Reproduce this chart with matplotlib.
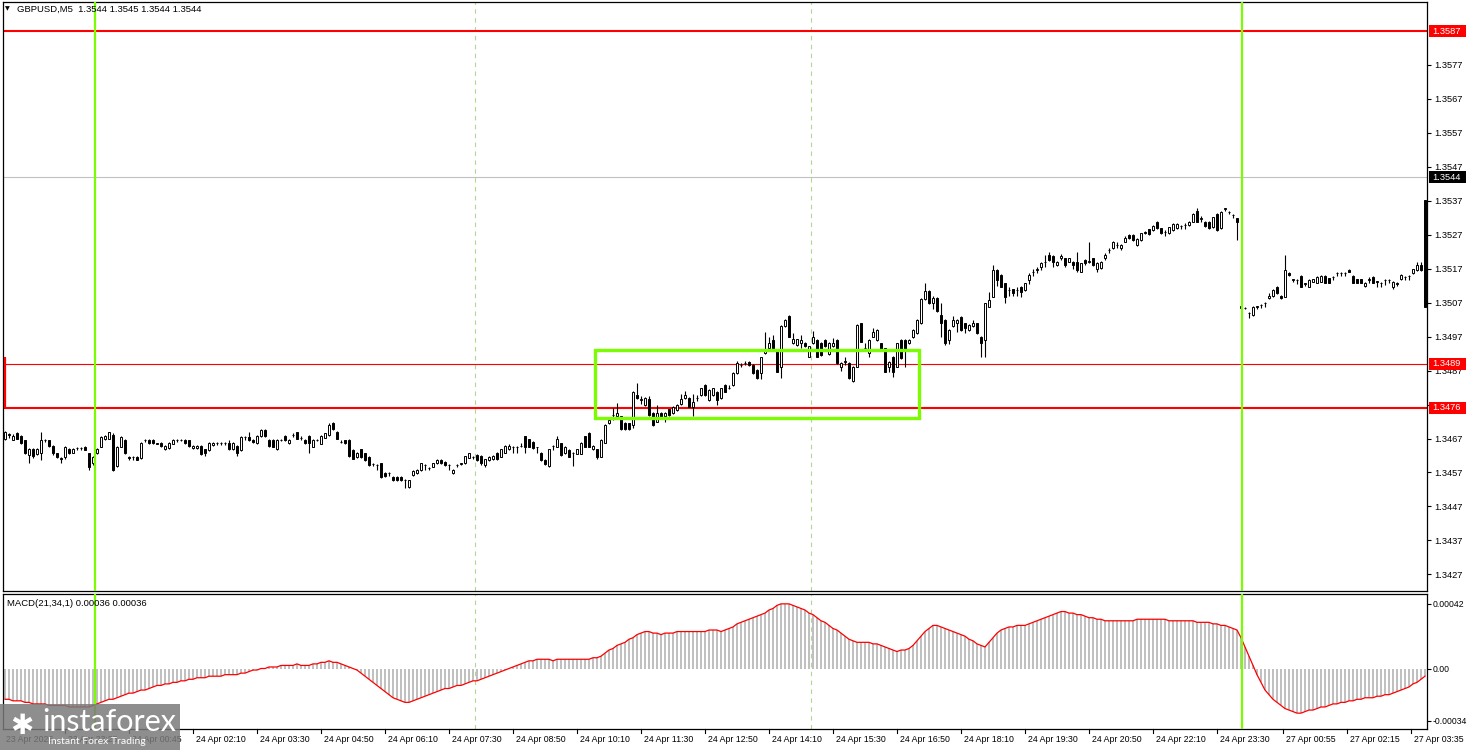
import matplotlib
matplotlib.use("Agg")
import matplotlib.pyplot as plt
import matplotlib.transforms as mtransforms
from matplotlib.patches import Rectangle
import numpy as np

# ---------------- data (prices in pips above 1.3400) ----------------
BASE = 1.3400
PIP = 0.0001

opens = [67.0,68.0,66.7,68.5,67.7,66.5,62.1,63.8,62.4,62.6,
66.7,66.5,64.8,62.6,61.4,61.6,63.8,62.8,64.1,64.1,
64.6,62.6,59.7,62.6,64.6,66.9,67.0,68.0,58.9,64.6,
66.7,61.6,61.6,61.6,61.4,66.5,66.7,66.7,65.5,65.7,
63.8,64.1,65.5,66.5,66.6,66.7,66.5,64.1,64.1,64.8,
63.8,63.6,65.1,65.6,65.6,65.6,65.7,63.8,64.8,63.6,
67.4,67.5,66.7,65.7,67.7,69.5,66.7,66.7,63.8,66.6,
67.7,65.7,68.0,68.8,67.2,66.7,67.7,64.6,66.6,65.5,
67.3,68.0,71.6,69.0,66.0,66.5,66.7,63.6,61.6,63.8,
62.6,61.6,59.4,59.2,59.7,56.9,56.8,55.7,55.7,55.7,
54.7,52.6,56.2,56.7,57.7,59.2,58.2,58.7,59.7,60.8,
60.1,59.2,56.7,59.1,59.6,59.7,61.4,61.6,62.1,
61.9,59.2,60.7,60.9,62.7,61.7,62.8,63.8,64.5,64.5,64.7,
67.6,66.8,66.1,64.5,62.7,60.7,58.9,64.7,64.6,65.6,
62.7,63.6,62.6,62.5,62.5,67.6,68.5,63.8,63.8,61.7,
65.8,71.5,73.8,73.5,73.5,71.7,71.5,71.0,79.8,78.4,
76.9,78.6,74.6,72.0,74.6,73.5,75.6,74.4,75.4,77.2,
78.9,78.9,76.4,78.8,79.8,82.8,78.2,79.8,80.8,78.9,
82.8,81.9,82.8,86.2,88.6,89.1,89.6,88.7,87.2,86.2,
92.1,93.6,96.0,93.1,88.2,100.1,103.1,95.0,94.5,95.0,
95.2,91.1,95.0,96.0,95.2,96.0,91.9,94.1,96.0,88.2,
89.6,89.2,83.8,88.2,100.9,93.6,92.1,97.0,96.0,95.0,
93.6,88.2,91.1,88.2,96.0,96.0,95.0,96.8,98.0,100.9,
108.0,110.5,107.0,108.5,103.4,101.9,96.0,100.0,100.9,102.9,
100.9,99.0,100.0,100.9,97.0,96.0,105.8,108.8,116.6,115.2,
112.7,110.6,110.9,110.6,111.7,110.7,113.7,116.0,116.7,117.6,
119.0,121.0,120.7,118.1,120.1,120.1,119.1,119.1,119.1,116.1,
119.6,119.1,120.1,116.8,117.1,120.1,122.4,123.0,123.9,123.0,
125.0,126.9,126.9,124.0,125.5,127.9,128.6,128.4,130.9,128.9,
127.8,127.4,128.4,128.9,129.5,129.8,129.9,130.9,134.1,131.7,
130.9,130.9,129.2,133.1,128.9,134.7,133.7,132.7,131.8,
105.4,105.4,103.9,103.4,105.8,106.3,106.8,108.3,109.0,111.7,
109.0,108.8,115.8,113.8,113.6,114.9,112.6,111.7,113.2,112.9,
113.2,114.9,114.2,114.6,115.7,115.7,115.7,116.6,114.9,113.9,
113.9,111.9,113.8,114.7,113.2,112.7,113.6,113.6,111.7,112.6,
113.9,114.6,114.8,115.6,116.6,118.1,137.2]

closes = [69.0,68.2,67.7,67.0,65.7,62.6,63.8,61.8,63.8,66.7,
66.5,64.8,62.6,61.6,61.1,64.6,62.8,63.8,64.2,64.2,
63.6,58.7,61.6,63.8,67.5,67.7,68.8,57.7,64.6,67.5,
62.6,61.4,61.5,60.8,65.8,66.6,65.7,65.7,65.5,64.8,
64.8,65.7,66.7,66.6,66.7,65.7,64.8,64.8,64.8,62.4,
62.6,65.7,65.7,65.7,65.7,65.7,63.8,65.7,62.6,67.5,
67.5,66.5,66.0,67.7,69.5,67.7,64.8,64.6,66.7,66.7,
66.5,66.7,68.1,67.0,67.3,65.7,65.7,66.7,66.7,67.7,
68.5,70.9,69.7,67.0,66.1,65.7,61.8,61.1,62.8,61.6,
60.6,59.2,59.5,59.1,55.7,55.9,56.9,54.7,54.7,54.7,
54.8,54.7,57.5,57.7,59.7,59.3,58.3,59.7,60.8,59.7,
59.2,59.1,57.7,59.2,59.7,61.8,62.6,61.7,60.6,
59.7,60.9,61.7,61.9,60.9,63.8,64.8,64.8,64.6,64.6,64.8,
64.6,64.6,64.1,64.4,60.7,59.5,63.8,64.8,66.8,62.2,
64.6,61.7,62.7,63.8,65.8,64.6,64.6,64.8,61.7,66.6,
71.0,72.5,73.9,74.6,69.7,69.7,69.7,80.8,78.9,78.5,
78.9,73.9,71.0,74.6,73.5,74.6,73.9,76.4,76.9,78.6,
79.8,76.4,77.9,78.9,81.8,79.8,81.3,81.8,78.2,81.8,
80.8,82.0,86.4,89.2,88.7,89.2,88.7,86.2,84.7,90.9,
93.1,95.2,93.6,86.7,100.1,101.9,97.0,96.2,96.2,96.0,
94.1,94.1,97.0,91.1,91.6,94.1,95.2,95.2,89.2,89.2,
89.7,84.7,88.2,100.4,95.5,93.7,96.0,98.5,99.0,93.1,
86.7,89.6,86.7,95.0,90.6,93.1,96.0,99.0,101.9,108.0,
110.5,107.0,108.5,104.5,100.9,95.0,99.0,101.9,101.9,99.0,
99.5,100.4,100.9,98.0,95.0,106.8,107.8,116.6,113.7,111.7,
108.8,110.7,109.8,110.7,110.2,112.7,115.2,116.1,116.8,118.8,
119.1,119.6,119.1,119.1,120.7,118.1,120.1,118.1,116.6,118.6,
118.6,119.2,118.1,118.8,119.1,121.0,122.5,125.0,124.0,124.0,
125.9,125.9,125.5,125.7,127.4,127.4,127.2,129.6,128.9,127.4,
127.9,129.2,130.2,130.2,129.6,129.9,130.9,133.1,130.9,131.8,
129.6,128.9,132.1,128.4,133.8,134.8,133.8,132.8,130.9,
106.0,105.4,104.0,105.8,105.9,106.4,106.9,109.0,110.7,109.8,
108.3,116.6,115.2,113.9,113.7,111.7,112.7,113.7,113.9,114.7,
114.9,112.9,112.9,114.7,115.8,115.8,115.8,116.1,112.9,112.9,
112.9,112.9,113.9,112.9,113.3,112.8,113.7,113.7,113.2,112.7,
115.2,114.7,114.9,116.8,118.1,116.6,105.7]

highs = [69.3,68.5,68.2,68.8,68.0,66.7,64.3,64.1,64.1,68.8,
66.9,66.7,65.1,62.8,61.6,64.8,64.1,64.1,64.4,64.4,
64.8,62.8,61.8,64.1,67.7,68.0,69.0,68.5,64.8,67.7,
67.0,61.8,61.8,61.8,66.0,66.9,66.9,66.9,65.7,65.9,
65.0,65.9,66.9,66.9,66.9,66.9,66.7,65.0,65.0,65.0,
64.0,65.9,65.9,65.9,65.9,65.9,66.5,65.9,65.0,67.7,
67.7,68.8,66.9,67.9,69.7,69.7,67.0,66.9,66.9,66.9,
67.9,66.9,68.5,69.0,67.7,66.9,67.9,66.9,66.9,67.9,
68.7,71.6,71.8,69.2,66.5,66.7,66.9,63.8,63.0,64.0,
62.8,61.8,59.9,59.4,59.9,57.1,57.1,55.9,55.9,55.9,
55.0,54.9,57.7,57.9,59.9,59.5,58.7,59.9,61.0,61.0,
60.3,59.4,57.9,59.4,59.9,62.0,62.8,61.9,62.3,
62.1,61.1,61.9,62.1,62.9,64.0,65.0,65.5,64.8,64.8,65.6,
67.8,67.0,66.3,64.6,62.9,60.9,64.0,65.2,67.6,65.8,
64.8,63.8,62.9,64.0,66.0,67.8,68.9,65.0,64.0,66.8,
71.2,72.7,76.0,77.6,73.7,71.9,71.7,81.0,83.3,79.5,
79.1,79.5,74.8,77.0,74.8,74.8,75.8,76.6,77.1,80.0,
81.0,79.1,80.0,79.7,82.0,83.0,81.5,82.0,81.0,82.0,
83.0,82.8,86.6,89.9,89.2,89.8,89.8,88.9,87.4,91.1,
98.5,96.8,97.5,93.3,100.3,102.1,103.3,98.0,96.4,97.5,
95.4,94.3,98.8,96.2,95.4,96.2,95.4,96.5,96.2,89.4,
91.0,89.4,88.4,100.6,101.1,95.0,96.2,99.5,99.2,95.2,
93.8,89.8,91.3,95.2,96.2,96.2,96.2,99.2,102.1,108.3,
112.8,110.7,109.0,108.7,106.8,102.1,99.2,103.0,102.1,103.1,
101.1,100.6,102.0,101.1,97.2,107.0,110.0,118.0,116.8,115.4,
112.9,111.5,111.1,111.7,111.9,112.9,115.8,117.0,117.5,119.0,
121.0,122.0,120.9,119.3,121.2,120.3,120.3,119.3,122.0,118.8,
119.8,125.0,120.3,119.0,119.3,121.5,123.0,125.2,125.0,124.2,
126.5,127.1,127.1,125.9,127.6,128.1,128.8,129.8,131.1,129.1,
128.3,129.4,130.4,130.4,130.0,130.5,131.1,133.3,135.0,132.5,
131.1,131.1,132.3,133.3,134.0,135.0,134.0,133.0,132.0,
106.2,105.6,104.2,106.0,106.1,106.6,107.1,109.8,110.9,111.9,
109.2,121.0,116.0,114.1,113.9,115.1,112.9,113.9,114.1,114.9,
115.1,115.1,114.4,114.9,116.0,116.0,116.0,116.8,115.1,114.1,
114.1,113.1,114.6,114.9,113.5,113.0,113.9,113.9,113.4,113.2,
115.4,114.9,115.1,117.0,119.0,119.0,137.2]

lows = [66.5,67.2,66.5,66.8,65.5,62.4,59.7,61.4,62.1,60.8,
66.0,64.6,62.1,61.4,59.7,61.1,62.4,62.6,63.6,63.6,
63.6,57.7,59.2,62.4,64.4,66.7,66.8,57.5,58.7,64.4,
62.4,60.6,60.6,60.6,61.1,66.0,65.5,65.5,65.3,64.6,
63.6,63.9,65.3,66.0,66.2,65.5,64.6,63.9,63.9,62.1,
61.8,63.4,64.9,65.2,65.2,65.2,63.6,63.6,61.8,63.4,
66.7,66.3,65.8,65.5,67.5,67.5,64.6,64.4,63.6,66.2,
66.3,65.5,67.5,66.8,66.7,65.5,62.6,64.4,66.2,65.3,
67.1,67.8,69.5,66.8,65.7,65.5,61.6,60.9,61.4,61.4,
60.4,59.0,59.0,57.7,55.5,55.7,55.9,54.5,54.5,54.5,
52.3,52.4,55.9,56.5,57.5,57.7,57.7,58.5,59.5,59.5,
59.0,57.7,56.5,58.7,59.2,59.5,61.2,61.1,60.4,
59.3,58.7,60.5,60.7,60.7,61.5,62.6,63.6,62.8,62.7,64.4,
62.7,64.4,63.9,62.7,60.5,59.3,58.7,63.6,64.4,62.0,
62.5,61.5,58.9,62.3,62.3,64.4,64.4,63.6,61.0,61.5,
65.6,71.3,72.5,73.3,69.5,69.5,69.5,70.0,78.7,77.2,
76.7,73.7,70.8,71.8,73.3,72.0,73.7,74.2,75.2,77.0,
78.7,76.2,73.5,78.0,79.6,79.6,78.0,79.6,76.9,78.7,
80.6,81.6,82.6,86.0,88.2,88.7,88.5,86.0,84.5,84.5,
91.9,93.4,93.4,86.5,84.7,99.9,96.8,94.8,94.3,93.6,
93.9,90.9,94.8,90.9,91.4,93.9,91.7,93.9,89.0,87.0,
88.7,84.5,83.6,88.0,95.3,93.0,91.0,96.8,95.8,92.9,
86.5,86.7,85.0,88.0,90.4,88.0,94.8,96.6,97.8,100.7,
107.8,106.5,105.0,104.3,97.0,94.5,94.8,99.8,98.5,98.8,
98.0,98.8,99.8,97.8,91.1,91.1,105.6,108.6,112.0,111.5,
107.0,109.0,109.0,109.0,108.8,110.5,112.5,115.0,115.8,116.5,
117.5,119.4,117.5,117.9,119.5,117.5,118.9,117.0,116.0,115.9,
118.0,118.6,117.9,116.0,116.9,119.5,121.5,122.8,123.0,122.5,
124.8,125.7,125.3,123.8,125.3,127.2,127.0,128.2,128.7,127.2,
126.5,127.2,128.2,128.7,128.6,128.6,129.7,130.7,130.7,130.8,
129.4,128.7,129.0,128.2,128.7,134.0,133.0,132.0,125.5,
105.2,105.2,102.4,103.2,105.0,105.3,105.8,108.1,108.8,109.6,
108.1,108.6,115.0,113.2,112.5,111.5,111.8,111.5,113.0,112.7,
113.0,112.7,112.7,113.6,115.0,115.0,115.0,115.9,112.7,112.7,
112.7,111.7,112.8,112.7,111.7,111.7,112.2,112.7,111.0,112.0,
113.7,113.6,113.8,115.4,116.4,116.4,105.7]

# MACD(21,34,1) histogram values, in 1e-5
macd = [-20,-20,-21,-21,-21,-22,-22,-23,-23,-23,-23,-24,-24,-24,-24,-24,-25,-25,-25,-25,-25,-25,-24,
-23,-22,-21,-20,-20,-19,-18,-17,-16,-16,-15,-14,
-14,-13,-12,-11,-11,-10,-10,-9,-9,-8,
-8,-7,-7,-6,-6,-6,-5,-5,-5,-5,-4,-4,-4,-4,-3,-3,
-2,-1,-1,0,0,1,1,1,2,2,2,2,3,2,2,
2,3,3,4,4,5,4,
4,3,2,1,0,-1,
-3,-5,-7,-9,-11,-13,-15,-17,-19,-20,-21,-22,
-22,-21,-20,-19,-18,-17,-16,-15,-14,-13,-13,-12,-11,-11,-10,-9,-8,-8,-7,-6,
-5,-4,-3,-2,-1,0,1,2,3,4,
5,5,6,6,6,6,5,6,6,6,6,6,6,6,6,6,7,7,
8,10,12,13,15,16,17,19,20,22,23,24,
24,23,23,22,23,23,23,24,24,24,24,24,24,24,24,25,25,25,24,25,
26,27,29,30,31,32,33,34,35,36,38,39,41,42,42,42,
41,40,39,38,36,35,33,31,30,
28,26,25,23,21,19,18,17,17,17,
17,16,16,15,14,13,12,
11,12,12,13,
15,18,21,24,26,28,
28,27,26,25,24,23,22,21,
19,18,16,15,14,
17,20,23,25,26,27,27,28,28,28,29,30,31,32,33,
34,35,36,37,37,36,36,
35,35,34,33,33,32,32,31,31,31,31,31,31,
31,31,32,32,32,32,32,32,32,32,31,31,31,31,31,31,31,30,30,30,
30,29,29,28,28,27,26,25,
20,14,8,2,-4,-9,-14,-17,-20,-22,
-24,-26,-27,-28,-29,-29,-28,
-27,-27,-26,-25,-25,-24,-23,-23,-22,-22,-21,-21,-20,-20,-19,
-19,-19,-18,-18,-17,-17,-16,-15,-14,-13,-12,-10,-9,-7,-5]

time_labels = ["23 Apr 2026", "23 Apr 23:25", "24 Apr 00:45", "24 Apr 02:10", "24 Apr 03:30",
               "24 Apr 04:50", "24 Apr 06:10", "24 Apr 07:30", "24 Apr 08:50", "24 Apr 10:10",
               "24 Apr 11:30", "24 Apr 12:50", "24 Apr 14:10", "24 Apr 15:30", "24 Apr 16:50",
               "24 Apr 18:10", "24 Apr 19:30", "24 Apr 20:50", "24 Apr 22:10", "24 Apr 23:30",
               "27 Apr 00:55", "27 Apr 02:15", "27 Apr 03:35"]
time_label_bars = [-0.5, 15, 31, 47, 63, 79, 95, 111, 127, 143, 159, 175, 191, 207, 223,
                   239, 255, 271, 287, 303, 319.5, 335.5, 351.5]

price_ticks = [1.3427, 1.3437, 1.3447, 1.3457, 1.3467, 1.3477, 1.3487, 1.3497, 1.3507,
               1.3517, 1.3527, 1.3537, 1.3547, 1.3557, 1.3567, 1.3577]
macd_ticks = [0.00042, 0.0, -0.00034]
macd_tick_labels = ["0.00042", "0.00", "-0.00034"]

red_levels_thick = [1.3587, 1.3476]
red_level_thin = 1.3489
bid_price = 1.3544
level_labels = [(1.3587, "1.3587", "#ff0000"), (1.3489, "1.3489", "#ff0000"),
                (1.3476, "1.3476", "#ff0000"), (1.3544, "1.3544", "#000000")]
green_vline_bars = [22.5, 309.25]
separator_bars = [117.5, 201.5]
zone_bar_start, zone_bar_end = 147.5, 228.5
zone_low, zone_high = 1.34730, 1.34931
left_edge_mark = (1.3476, 1.3491)

title_text = "GBPUSD,M5  1.3544 1.3545 1.3544 1.3544"
macd_text = "MACD(21,34,1) 0.00036 0.00036"

# ---------------- figure ----------------
W, H = 1468, 750
fig = plt.figure(figsize=(W / 100, H / 100), dpi=100)
fig.patch.set_facecolor("white")
FONT = ["Liberation Sans", "DejaVu Sans"]
FS_AX = 6.7     # right axis labels
FS_MACD_AX = 6.2
FS_TIME = 6.3   # time labels
FS_HEAD = 6.8   # title / indicator label

def px_axes(x0, y0, x1, y1):
    return fig.add_axes([x0 / W, 1 - y1 / H, (x1 - x0) / W, (y1 - y0) / H])

ax = px_axes(3, 2, 1427, 591)
ax2 = px_axes(3, 594, 1427, 729)

n = min(len(opens), len(closes), len(highs), len(lows))
xs = np.arange(n)
o = BASE + np.array(opens[:n]) * PIP
c = BASE + np.array(closes[:n]) * PIP
h = BASE + np.array(highs[:n]) * PIP
l = BASE + np.array(lows[:n]) * PIP

ax.set_xlim(-0.5, 355.5)
ax2.set_xlim(-0.5, 355.5)
ax.set_ylim(1.342210, 1.359554)
ax2.set_ylim(-0.000393, 0.000484)

for a in (ax, ax2):
    a.set_facecolor("white")
    for s in a.spines.values():
        s.set_color("black")
        s.set_linewidth(0.9)
    a.set_xticks([])

# horizontal levels
ax.axhline(bid_price, color="#c0c0c0", lw=0.8, zorder=1)
ax.axhline(red_level_thin, color="red", lw=0.8, zorder=1)
for lv in red_levels_thick:
    ax.axhline(lv, color="red", lw=1.5, zorder=1)

# period separators
for sb in separator_bars:
    for a in (ax, ax2):
        a.axvline(sb, color="#b0d890", lw=0.8, ls=(0, (4, 4)), zorder=0.5)

# candles
bull = c >= o
ax.vlines(xs, l, h, color="black", lw=0.8, zorder=3)
body_lo = np.minimum(o, c)
body_h = np.maximum(np.abs(c - o), 0.000004)
ax.bar(xs[bull], body_h[bull], bottom=body_lo[bull], width=0.62,
       color="white", edgecolor="black", linewidth=0.7, zorder=4)
ax.bar(xs[~bull], body_h[~bull], bottom=body_lo[~bull], width=0.62,
       color="black", edgecolor="black", linewidth=0.7, zorder=4)

# zone rectangle
ax.add_patch(Rectangle((zone_bar_start, zone_low), zone_bar_end - zone_bar_start,
                       zone_high - zone_low, fill=False, edgecolor="#7cfc00", lw=2.4, zorder=6))
# left edge red mark
ax.vlines([-0.1], left_edge_mark[0], left_edge_mark[1], color="red", lw=1.6, zorder=6)

# green vertical lines across both panels
for gb in green_vline_bars:
    for a in (ax, ax2):
        a.axvline(gb, color="#7cfc00", lw=1.6, zorder=7)

# MACD panel
mv = np.array(macd[:n]) * 1e-5
ax2.bar(xs, mv, width=0.45, color="#c0c0c0", zorder=2)
ax2.plot(xs, mv, color="red", lw=0.9, zorder=3)

# right axis ticks
for a, ticks, labels, fs, pad in ((ax, price_ticks, ["%.4f" % t for t in price_ticks], FS_AX, 2.5),
                                  (ax2, macd_ticks, macd_tick_labels, FS_MACD_AX, 1.2)):
    a.yaxis.tick_right()
    a.set_yticks(ticks)
    a.set_yticklabels(labels)
    a.tick_params(axis="y", direction="out", length=3, width=0.8, pad=pad,
                  labelsize=fs, colors="black")
    for t in a.get_yticklabels():
        t.set_fontfamily(FONT)

# level labels on the right (boxes in pixel coordinates)
ident = mtransforms.IdentityTransform()
for price, txt, col in level_labels:
    yd = ax.transData.transform((0, price))[1]
    fig.add_artist(Rectangle((1429, yd - 6), 37, 12, transform=ident,
                             facecolor=col, edgecolor="none", zorder=20))
    fig.text(1432 / W, yd / H, txt, ha="left", va="center", color="white",
             fontsize=FS_AX, family=FONT, zorder=21)

# title and macd label
fig.text(5 / W, 1 - 9 / H, "\u25BC", fontsize=4.5, ha="left", va="center", family=["DejaVu Sans"])
fig.text(17 / W, 1 - 9 / H, title_text, fontsize=FS_HEAD, ha="left", va="center", family=FONT)
fig.text(7 / W, 1 - 604 / H, macd_text, fontsize=FS_HEAD, ha="left", va="center", family=FONT)

# time axis labels
trans = mtransforms.blended_transform_factory(ax2.transData, fig.transFigure)
label_trans = mtransforms.offset_copy(trans, fig=fig, x=2.5, y=0, units="dots")
for tb, tl in zip(time_label_bars, time_labels):
    if tb > 0:
        ax2.plot([tb, tb], [1 - 729 / H, 1 - 733 / H], transform=trans,
                 color="black", lw=0.8, clip_on=False)
    fig.text(tb, 1 - 739 / H, tl, transform=label_trans,
             fontsize=FS_TIME, ha="left", va="center", family=FONT)

# watermark
fig.add_artist(Rectangle((0, 0), 180 / W, 46 / H, transform=fig.transFigure,
                         facecolor="#7a7a7a", alpha=0.85, edgecolor="none", zorder=30))
fig.text(22 / W, 1 - 726 / H, "\u2731", fontsize=20, color="white", ha="center", va="center", zorder=31)
fig.text(42 / W, 1 - 722 / H, "instaforex", fontsize=22, color="white", ha="left", va="center",
         family=["Lato", "DejaVu Sans"], zorder=31)
fig.text(48 / W, 1 - 742 / H, "Instant Forex Trading", fontsize=7.5, color="white", ha="left",
         va="center", family=["Lato", "DejaVu Sans"], zorder=31)

fig.savefig("out.png", dpi=100, facecolor="white")
